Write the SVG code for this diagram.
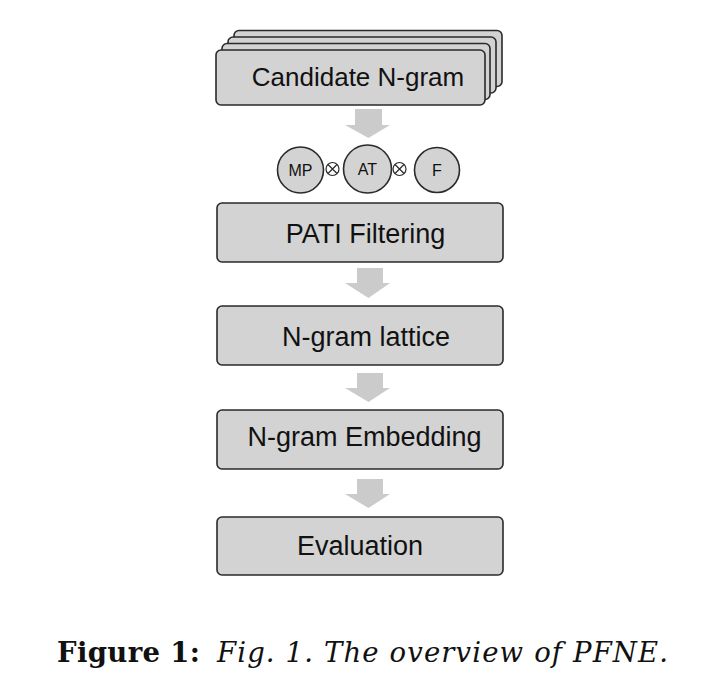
<svg xmlns="http://www.w3.org/2000/svg" width="714" height="700" viewBox="0 0 714 700">
<style>
.box{fill:#d3d3d3;stroke:#2a2a2a;stroke-width:1.6}
.lbl{font-family:"Liberation Sans",Arial,sans-serif;font-size:27px;fill:#111;text-anchor:middle}
.cl{font-family:"Liberation Sans",Arial,sans-serif;font-size:16px;fill:#111;text-anchor:middle}
.arr{fill:#cbcbcb}
.op{fill:none;stroke:#2a2a2a;stroke-width:1.2}
.cap{font-family:"DejaVu Serif","Liberation Serif",serif;font-size:27.5px;fill:#111}
</style>
<rect width="714" height="700" fill="#fff"/>
<g id="candidate">
<rect class="box" x="234" y="30.5" width="268" height="56" rx="5"/>
<rect class="box" x="228" y="37" width="268" height="56" rx="5"/>
<rect class="box" x="222" y="43.5" width="268" height="56" rx="5"/>
<rect class="box" x="216" y="50" width="269" height="55" rx="5"/>
<text class="lbl" x="358" y="86" style="font-size:26px">Candidate N-gram</text>
</g>
<g id="mp"><circle class="box" cx="300.5" cy="170" r="23"/><text class="cl" x="300.5" y="176">MP</text></g>
<g id="op1"><circle class="op" cx="332.5" cy="169" r="6.5"/><path class="op" d="M328,164.5 L337,173.5 M337,164.5 L328,173.5"/></g>
<g id="at"><circle class="box" cx="367.5" cy="169" r="24"/><text class="cl" x="367.5" y="175">AT</text></g>
<g id="op2"><circle class="op" cx="399.5" cy="169" r="6.5"/><path class="op" d="M395,164.5 L404,173.5 M404,164.5 L395,173.5"/></g>
<g id="f"><circle class="box" cx="437" cy="170" r="22.5"/><text class="cl" x="437" y="176">F</text></g>
<g id="pati"><rect class="box" x="217" y="203" width="286" height="59" rx="5"/><text class="lbl" x="365.5" y="243">PATI Filtering</text></g>
<g id="lattice"><rect class="box" x="217" y="306" width="286" height="59" rx="5"/><text class="lbl" x="366" y="346">N-gram lattice</text></g>
<g id="embedding"><rect class="box" x="217" y="410" width="286" height="59" rx="5"/><text class="lbl" x="364.5" y="446">N-gram Embedding</text></g>
<g id="evaluation"><rect class="box" x="217" y="517" width="286" height="58" rx="5"/><text class="lbl" x="360" y="555">Evaluation</text></g>
<g id="connectors">
<path class="arr" d="M355,109 H382 V125 H390 L368.5,138 L345,125 H355 Z"/>
<path class="arr" d="M357,268 H383 V283 H390 L368.5,298 L345,283 H357 Z"/>
<path class="arr" d="M357,373 H383 V388 H390 L368.5,402 L345,388 H357 Z"/>
<path class="arr" d="M357,479 H383 V494 H390 L368.5,508 L345,494 H357 Z"/>
</g>
<text class="cap" x="57" y="662" font-weight="bold" textLength="143">Figure 1:</text>
<text class="cap" x="217" y="662" font-style="italic" textLength="451">Fig. 1. The overview of PFNE.</text>
</svg>
